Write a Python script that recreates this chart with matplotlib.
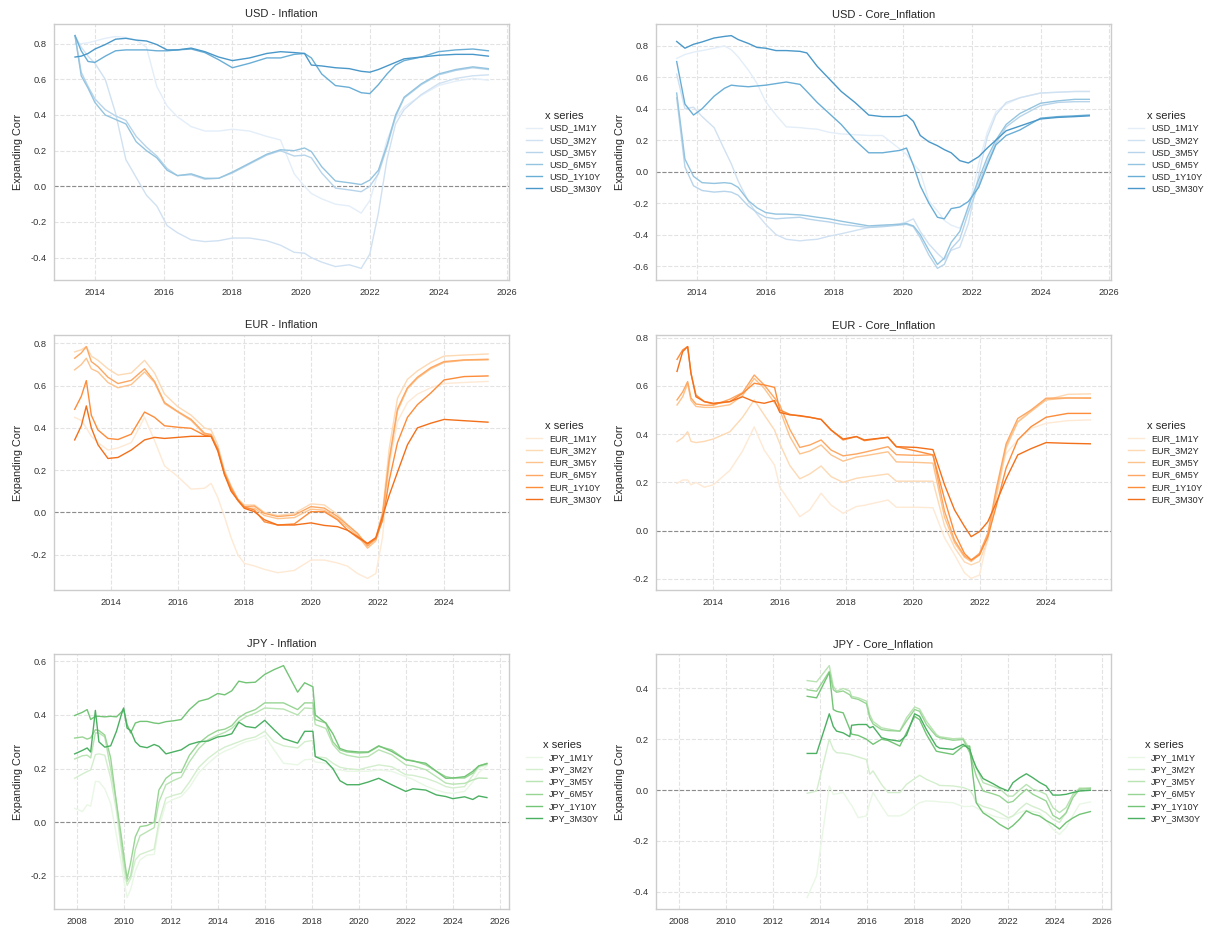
import numpy as np
import matplotlib
matplotlib.use("Agg")
import matplotlib.pyplot as plt
from matplotlib.ticker import MultipleLocator, FormatStrFormatter

plt.rcParams["font.family"] = ["Liberation Sans", "DejaVu Sans"]
plt.rcParams["axes.unicode_minus"] = False

tenors = ["1M1Y", "3M2Y", "3M5Y", "6M5Y", "1Y10Y", "3M30Y"]

# ---------------- USD : Inflation ----------------
usd_inf_t = [2013.42, 2013.6, 2013.8, 2014.0, 2014.3, 2014.6, 2014.9, 2015.2, 2015.5, 2015.8,
             2016.1, 2016.4, 2016.8, 2017.2, 2017.6, 2018.0, 2018.5, 2019.0, 2019.4, 2019.8,
             2020.1, 2020.3, 2020.6, 2021.0, 2021.4, 2021.75, 2022.0, 2022.25, 2022.5, 2022.75,
             2023.0, 2023.5, 2024.0, 2024.5, 2025.0, 2025.45]
usd_inf_1M1Y = [0.80, 0.80, 0.805, 0.815, 0.83, 0.84, 0.835, 0.82, 0.78, 0.56,
                0.45, 0.39, 0.335, 0.31, 0.31, 0.32, 0.31, 0.28, 0.26, 0.07,
                0.0, -0.04, -0.07, -0.10, -0.11, -0.15, -0.08, 0.08, 0.26, 0.38,
                0.445, 0.51, 0.565, 0.59, 0.605, 0.595]
usd_inf_3M2Y = [0.845, 0.78, 0.73, 0.69, 0.60, 0.41, 0.15, 0.05, -0.05, -0.11,
                -0.22, -0.26, -0.30, -0.31, -0.305, -0.29, -0.29, -0.305, -0.33, -0.37,
                -0.375, -0.40, -0.425, -0.45, -0.44, -0.46, -0.38, -0.15, 0.15, 0.35,
                0.43, 0.515, 0.575, 0.605, 0.62, 0.625]
usd_inf_3M5Y = [0.845, 0.64, 0.56, 0.49, 0.43, 0.395, 0.37, 0.28, 0.22, 0.17,
                0.10, 0.06, 0.065, 0.04, 0.045, 0.075, 0.125, 0.175, 0.20, 0.17,
                0.175, 0.16, 0.075, -0.01, -0.02, -0.03, 0.0, 0.07, 0.22, 0.39,
                0.495, 0.57, 0.625, 0.65, 0.665, 0.655]
usd_inf_6M5Y = [0.845, 0.62, 0.55, 0.47, 0.40, 0.375, 0.35, 0.25, 0.20, 0.16,
                0.09, 0.06, 0.07, 0.045, 0.045, 0.08, 0.13, 0.18, 0.205, 0.20,
                0.215, 0.195, 0.11, 0.03, 0.02, 0.01, 0.035, 0.09, 0.23, 0.40,
                0.50, 0.575, 0.63, 0.655, 0.67, 0.66]
usd_inf_1Y10Y = [0.845, 0.76, 0.70, 0.695, 0.73, 0.76, 0.765, 0.765, 0.765, 0.76,
                 0.76, 0.765, 0.77, 0.75, 0.71, 0.665, 0.69, 0.72, 0.72, 0.74,
                 0.745, 0.72, 0.63, 0.565, 0.555, 0.525, 0.52, 0.57, 0.63, 0.68,
                 0.705, 0.725, 0.755, 0.765, 0.77, 0.76]
usd_inf_3M30Y = [0.725, 0.73, 0.745, 0.77, 0.795, 0.825, 0.83, 0.82, 0.815, 0.795,
                 0.765, 0.765, 0.775, 0.755, 0.725, 0.705, 0.72, 0.745, 0.755, 0.75,
                 0.745, 0.68, 0.675, 0.665, 0.66, 0.645, 0.64, 0.655, 0.675, 0.695,
                 0.715, 0.725, 0.735, 0.74, 0.74, 0.73]

# ---------------- USD : Core inflation ----------------
usd_core_t = [2013.41, 2013.65, 2013.9, 2014.15, 2014.5, 2014.8, 2015.0, 2015.2, 2015.5, 2015.75,
              2016.0, 2016.3, 2016.6, 2017.0, 2017.2, 2017.5, 2017.85, 2018.2, 2018.6, 2019.0,
              2019.4, 2019.9, 2020.1, 2020.3, 2020.5, 2020.75, 2021.0, 2021.2, 2021.4, 2021.65,
              2021.9, 2022.2, 2022.45, 2022.7, 2023.0, 2023.4, 2024.0, 2024.5, 2025.0, 2025.42]
usd_core_1M1Y = [0.72, 0.745, 0.76, 0.77, 0.785, 0.80, 0.775, 0.73, 0.645, 0.56,
                 0.445, 0.36, 0.285, 0.28, 0.275, 0.27, 0.25, 0.24, 0.235, 0.23,
                 0.23, 0.145, 0.11, 0.05, 0.0, -0.185, -0.25, -0.31, -0.34, -0.36,
                 -0.24, 0.05, 0.25, 0.38, 0.43, 0.47, 0.50, 0.505, 0.51, 0.51]
usd_core_3M2Y = [0.62, 0.40, 0.41, 0.35, 0.28, 0.14, 0.05, -0.06, -0.19, -0.27,
                 -0.335, -0.40, -0.43, -0.44, -0.435, -0.43, -0.41, -0.395, -0.375, -0.355,
                 -0.345, -0.332, -0.32, -0.30, -0.38, -0.46, -0.52, -0.56, -0.50, -0.48,
                 -0.33, -0.02, 0.22, 0.36, 0.44, 0.47, 0.50, 0.505, 0.51, 0.51]
usd_core_3M5Y = [0.47, 0.03, -0.09, -0.12, -0.13, -0.125, -0.13, -0.15, -0.22, -0.26,
                 -0.29, -0.30, -0.295, -0.29, -0.30, -0.31, -0.32, -0.335, -0.345, -0.355,
                 -0.35, -0.34, -0.335, -0.35, -0.42, -0.53, -0.615, -0.59, -0.49, -0.43,
                 -0.26, -0.08, 0.06, 0.18, 0.285, 0.35, 0.42, 0.44, 0.445, 0.445]
usd_core_6M5Y = [0.50, 0.08, -0.03, -0.07, -0.075, -0.07, -0.075, -0.10, -0.185, -0.23,
                 -0.26, -0.27, -0.27, -0.275, -0.28, -0.29, -0.30, -0.315, -0.33, -0.345,
                 -0.34, -0.335, -0.33, -0.345, -0.40, -0.50, -0.59, -0.55, -0.45, -0.38,
                 -0.22, -0.05, 0.09, 0.20, 0.30, 0.37, 0.435, 0.45, 0.46, 0.46]
usd_core_1Y10Y = [0.70, 0.43, 0.36, 0.40, 0.48, 0.53, 0.55, 0.545, 0.54, 0.545,
                  0.55, 0.56, 0.57, 0.555, 0.51, 0.44, 0.37, 0.30, 0.20, 0.12,
                  0.12, 0.135, 0.15, 0.04, -0.09, -0.20, -0.29, -0.30, -0.235, -0.225,
                  -0.19, -0.10, 0.04, 0.17, 0.23, 0.265, 0.34, 0.35, 0.355, 0.36]
usd_core_3M30Y = [0.828, 0.785, 0.81, 0.825, 0.85, 0.86, 0.865, 0.84, 0.815, 0.79,
                  0.785, 0.77, 0.77, 0.765, 0.755, 0.67, 0.59, 0.51, 0.44, 0.36,
                  0.35, 0.35, 0.36, 0.32, 0.23, 0.19, 0.165, 0.14, 0.12, 0.07,
                  0.055, 0.095, 0.15, 0.20, 0.26, 0.29, 0.335, 0.345, 0.35, 0.355]

# ---------------- EUR : Inflation ----------------
eur_inf_t = [2012.9, 2013.1, 2013.25, 2013.4, 2013.6, 2013.9, 2014.2, 2014.6, 2015.0, 2015.3,
             2015.6, 2016.0, 2016.4, 2016.8, 2017.0, 2017.2, 2017.4, 2017.6, 2017.8, 2018.0,
             2018.3, 2018.6, 2019.0, 2019.5, 2020.0, 2020.4, 2020.8, 2021.1, 2021.4, 2021.7,
             2021.95, 2022.15, 2022.35, 2022.6, 2022.9, 2023.2, 2023.6, 2024.0, 2024.6, 2025.32]
eur_inf_1M1Y = [0.45, 0.435, 0.40, 0.36, 0.33, 0.295, 0.305, 0.33, 0.45, 0.34,
                0.22, 0.169, 0.11, 0.114, 0.137, 0.07, -0.02, -0.12, -0.20, -0.242,
                -0.254, -0.27, -0.286, -0.275, -0.226, -0.226, -0.24, -0.255, -0.29, -0.313,
                -0.29, -0.12, 0.22, 0.43, 0.52, 0.56, 0.59, 0.61, 0.615, 0.62]
eur_inf_3M2Y = [0.76, 0.77, 0.785, 0.74, 0.72, 0.68, 0.65, 0.66, 0.72, 0.66,
                0.56, 0.50, 0.46, 0.40, 0.39, 0.32, 0.20, 0.125, 0.065, 0.035,
                0.035, 0.0, -0.015, -0.005, 0.04, 0.035, -0.01, -0.06, -0.10, -0.155,
                -0.12, 0.0, 0.30, 0.54, 0.63, 0.67, 0.71, 0.74, 0.745, 0.75]
eur_inf_3M5Y = [0.675, 0.70, 0.73, 0.68, 0.665, 0.615, 0.59, 0.605, 0.665, 0.615,
                0.515, 0.475, 0.435, 0.37, 0.37, 0.30, 0.19, 0.115, 0.055, 0.02,
                0.02, -0.015, -0.03, -0.025, 0.015, 0.01, -0.03, -0.07, -0.11, -0.17,
                -0.135, -0.02, 0.24, 0.48, 0.585, 0.635, 0.68, 0.71, 0.72, 0.722]
eur_inf_6M5Y = [0.73, 0.755, 0.785, 0.714, 0.69, 0.64, 0.61, 0.625, 0.68, 0.62,
                0.52, 0.477, 0.44, 0.375, 0.367, 0.30, 0.19, 0.12, 0.06, 0.027,
                0.03, -0.005, -0.02, -0.013, 0.027, 0.02, -0.02, -0.06, -0.10, -0.16,
                -0.125, -0.01, 0.25, 0.49, 0.59, 0.64, 0.685, 0.714, 0.722, 0.725]
eur_inf_1Y10Y = [0.488, 0.55, 0.624, 0.46, 0.39, 0.35, 0.345, 0.37, 0.475, 0.45,
                 0.41, 0.403, 0.398, 0.365, 0.36, 0.30, 0.18, 0.11, 0.06, 0.025,
                 0.011, -0.045, -0.06, -0.055, 0.003, 0.003, -0.036, -0.084, -0.12, -0.15,
                 -0.125, -0.04, 0.15, 0.33, 0.45, 0.51, 0.565, 0.627, 0.643, 0.646]
eur_inf_3M30Y = [0.343, 0.41, 0.504, 0.40, 0.32, 0.255, 0.26, 0.295, 0.343, 0.355,
                 0.35, 0.355, 0.36, 0.36, 0.36, 0.29, 0.18, 0.10, 0.058, 0.019,
                 0.003, -0.035, -0.06, -0.06, -0.05, -0.062, -0.068, -0.085, -0.115, -0.147,
                 -0.12, -0.02, 0.08, 0.19, 0.32, 0.40, 0.422, 0.44, 0.434, 0.427]

# ---------------- EUR : Core inflation ----------------
eur_core_t = [2012.91, 2013.08, 2013.23, 2013.33, 2013.48, 2013.73, 2014.0, 2014.5, 2014.88, 2015.23,
              2015.53, 2015.84, 2016.0, 2016.3, 2016.6, 2016.9, 2017.24, 2017.54, 2017.9, 2018.3,
              2018.54, 2019.25, 2019.5, 2020.1, 2020.6, 2020.95, 2021.25, 2021.55, 2021.75, 2022.0,
              2022.25, 2022.5, 2022.8, 2023.15, 2023.55, 2024.0, 2024.65, 2025.33]
eur_core_1M1Y = [0.196, 0.21, 0.21, 0.19, 0.20, 0.18, 0.19, 0.25, 0.33, 0.43,
                 0.334, 0.272, 0.18, 0.12, 0.058, 0.086, 0.155, 0.106, 0.072, 0.10,
                 0.105, 0.127, 0.097, 0.097, 0.095, -0.03, -0.10, -0.175, -0.198, -0.184,
                 -0.03, 0.17, 0.32, 0.376, 0.424, 0.445, 0.456, 0.459]
eur_core_3M2Y = [0.369, 0.385, 0.41, 0.37, 0.365, 0.37, 0.38, 0.41, 0.47, 0.542,
                 0.48, 0.417, 0.36, 0.27, 0.215, 0.235, 0.268, 0.224, 0.20, 0.217,
                 0.222, 0.235, 0.205, 0.205, 0.205, 0.02, -0.07, -0.13, -0.142, -0.128,
                 -0.039, 0.13, 0.34, 0.452, 0.50, 0.542, 0.565, 0.567]
eur_core_3M5Y = [0.521, 0.555, 0.61, 0.54, 0.515, 0.511, 0.511, 0.522, 0.56, 0.631,
                 0.59, 0.53, 0.50, 0.39, 0.318, 0.33, 0.355, 0.314, 0.288, 0.305,
                 0.31, 0.327, 0.285, 0.283, 0.28, 0.055, -0.05, -0.11, -0.128, -0.10,
                 -0.025, 0.15, 0.35, 0.45, 0.494, 0.542, 0.55, 0.551]
eur_core_6M5Y = [0.542, 0.575, 0.618, 0.55, 0.525, 0.52, 0.52, 0.545, 0.572, 0.645,
                 0.604, 0.55, 0.52, 0.42, 0.345, 0.355, 0.376, 0.334, 0.31, 0.318,
                 0.325, 0.348, 0.315, 0.312, 0.314, 0.08, -0.04, -0.105, -0.122, -0.094,
                 -0.011, 0.17, 0.36, 0.465, 0.50, 0.549, 0.55, 0.549]
eur_core_1Y10Y = [0.71, 0.749, 0.763, 0.652, 0.562, 0.535, 0.525, 0.535, 0.569, 0.611,
                  0.604, 0.594, 0.50, 0.482, 0.475, 0.47, 0.461, 0.417, 0.376, 0.39,
                  0.373, 0.387, 0.348, 0.33, 0.314, 0.13, -0.01, -0.095, -0.122, -0.10,
                  -0.025, 0.10, 0.26, 0.376, 0.431, 0.47, 0.486, 0.486]
eur_core_3M30Y = [0.66, 0.742, 0.763, 0.652, 0.555, 0.535, 0.528, 0.535, 0.555, 0.535,
                  0.528, 0.539, 0.49, 0.48, 0.477, 0.47, 0.461, 0.417, 0.38, 0.39,
                  0.376, 0.387, 0.348, 0.345, 0.336, 0.19, 0.086, 0.017, -0.025, -0.004,
                  0.037, 0.115, 0.215, 0.314, 0.34, 0.365, 0.362, 0.36]

# ---------------- JPY : Inflation ----------------
jpy_inf_t = [2007.92, 2008.25, 2008.45, 2008.6, 2008.8, 2008.95, 2009.2, 2009.45, 2009.7, 2009.9,
             2010.0, 2010.15, 2010.3, 2010.5, 2010.7, 2011.0, 2011.3, 2011.5, 2011.8, 2012.1,
             2012.45, 2012.8, 2013.2, 2013.6, 2014.0, 2014.3, 2014.6, 2014.9, 2015.2, 2015.6,
             2016.0, 2016.4, 2016.8, 2017.4, 2017.7, 2018.05, 2018.15, 2018.6, 2018.9, 2019.2,
             2019.5, 2020.0, 2020.4, 2020.85, 2021.4, 2022.0, 2022.3, 2022.85, 2023.3, 2023.7,
             2024.0, 2024.5, 2024.85, 2025.1, 2025.45]
jpy_inf_1M1Y = [0.052, 0.04, 0.065, 0.06, 0.152, 0.152, 0.125, 0.07, -0.05, -0.15,
                -0.21, -0.28, -0.25, -0.18, -0.14, -0.122, -0.12, -0.02, 0.07, 0.085,
                0.096, 0.13, 0.185, 0.22, 0.25, 0.265, 0.275, 0.289, 0.30, 0.308,
                0.323, 0.27, 0.22, 0.214, 0.233, 0.235, 0.225, 0.22, 0.20, 0.195,
                0.19, 0.19, 0.19, 0.195, 0.19, 0.17, 0.16, 0.135, 0.12, 0.11,
                0.108, 0.115, 0.15, 0.185, 0.21]
jpy_inf_3M2Y = [0.164, 0.18, 0.189, 0.195, 0.252, 0.255, 0.25, 0.165, 0.04, -0.10,
                -0.17, -0.235, -0.21, -0.14, -0.12, -0.11, -0.10, 0.0, 0.09, 0.10,
                0.108, 0.15, 0.205, 0.239, 0.265, 0.28, 0.29, 0.30, 0.31, 0.318,
                0.339, 0.30, 0.285, 0.277, 0.30, 0.305, 0.245, 0.24, 0.22, 0.205,
                0.20, 0.196, 0.205, 0.214, 0.207, 0.177, 0.175, 0.164, 0.15, 0.133,
                0.128, 0.133, 0.175, 0.205, 0.214]
jpy_inf_3M5Y = [0.236, 0.248, 0.25, 0.24, 0.333, 0.333, 0.318, 0.20, 0.07, -0.075,
                -0.14, -0.22, -0.20, -0.10, -0.05, -0.035, -0.02, 0.075, 0.14, 0.155,
                0.168, 0.225, 0.275, 0.308, 0.325, 0.335, 0.35, 0.376, 0.393, 0.407,
                0.426, 0.424, 0.422, 0.40, 0.426, 0.424, 0.364, 0.35, 0.29, 0.26,
                0.25, 0.242, 0.245, 0.27, 0.252, 0.214, 0.21, 0.196, 0.17, 0.146,
                0.142, 0.145, 0.158, 0.165, 0.164]
jpy_inf_6M5Y = [0.314, 0.318, 0.31, 0.315, 0.345, 0.342, 0.325, 0.24, 0.07, -0.05,
                -0.116, -0.21, -0.15, -0.054, -0.016, -0.012, 0.0, 0.12, 0.164, 0.184,
                0.186, 0.25, 0.295, 0.323, 0.342, 0.347, 0.36, 0.39, 0.407, 0.42,
                0.445, 0.445, 0.445, 0.42, 0.445, 0.445, 0.383, 0.37, 0.30, 0.27,
                0.262, 0.258, 0.26, 0.283, 0.27, 0.233, 0.23, 0.214, 0.19, 0.17,
                0.165, 0.165, 0.183, 0.21, 0.22]
jpy_inf_1Y10Y = [0.398, 0.41, 0.42, 0.383, 0.395, 0.395, 0.393, 0.395, 0.393, 0.41,
                 0.422, 0.364, 0.333, 0.37, 0.376, 0.376, 0.37, 0.368, 0.375, 0.378,
                 0.383, 0.42, 0.451, 0.46, 0.48, 0.475, 0.49, 0.526, 0.52, 0.522,
                 0.551, 0.569, 0.584, 0.485, 0.52, 0.505, 0.40, 0.37, 0.33, 0.275,
                 0.266, 0.262, 0.262, 0.285, 0.264, 0.233, 0.228, 0.22, 0.19, 0.164,
                 0.165, 0.17, 0.19, 0.21, 0.218]
jpy_inf_3M30Y = [0.255, 0.268, 0.277, 0.262, 0.417, 0.30, 0.28, 0.285, 0.34, 0.40,
                 0.426, 0.351, 0.342, 0.30, 0.283, 0.278, 0.29, 0.283, 0.255, 0.262,
                 0.27, 0.29, 0.30, 0.303, 0.318, 0.322, 0.33, 0.373, 0.357, 0.352,
                 0.38, 0.345, 0.312, 0.295, 0.339, 0.339, 0.245, 0.228, 0.20, 0.155,
                 0.14, 0.14, 0.15, 0.164, 0.14, 0.115, 0.125, 0.12, 0.102, 0.096,
                 0.088, 0.095, 0.085, 0.098, 0.092]

# ---------------- JPY : Core inflation ----------------
jpy_core_t = [2013.47, 2013.87, 2014.41, 2014.58, 2014.72, 2015.0, 2015.28, 2015.36, 2015.64, 2015.99,
              2016.13, 2016.27, 2016.63, 2016.91, 2017.41, 2017.69, 2018.04, 2018.25, 2018.54, 2018.96,
              2019.1, 2019.67, 2020.1, 2020.38, 2020.52, 2020.66, 2020.95, 2021.37, 2021.65, 2022.01,
              2022.22, 2022.5, 2022.79, 2023.07, 2023.35, 2023.63, 2023.92, 2024.2, 2024.48, 2024.77,
              2025.05, 2025.51]
jpy_core_1M1Y = [-0.423, -0.338, 0.016, -0.017, -0.015, -0.01, -0.05, -0.06, -0.109, -0.102,
                 -0.05, -0.01, -0.063, -0.102, -0.102, -0.09, -0.063, -0.05, -0.043, -0.045,
                 -0.047, -0.05, -0.065, -0.065, -0.063, -0.07, -0.085, -0.102, -0.109, -0.115,
                 -0.102, -0.089, -0.08, -0.085, -0.09, -0.12, -0.154, -0.175, -0.148, -0.10,
                 -0.056, -0.047]
jpy_core_3M2Y = [-0.013, -0.004, 0.20, 0.16, 0.147, 0.145, 0.14, 0.138, 0.13, 0.12,
                 0.062, 0.075, 0.022, -0.01, -0.01, 0.022, 0.045, 0.058, 0.042, 0.025,
                 0.018, 0.016, 0.01, 0.0, -0.02, -0.05, -0.065, -0.076, -0.089, -0.109,
                 -0.102, -0.075, -0.052, -0.065, -0.075, -0.09, -0.115, -0.128, -0.089, -0.02,
                 0.009, 0.005]
jpy_core_3M5Y = [0.431, 0.426, 0.49, 0.409, 0.389, 0.40, 0.39, 0.369, 0.363, 0.35,
                 0.297, 0.27, 0.245, 0.24, 0.232, 0.284, 0.327, 0.319, 0.271, 0.219,
                 0.21, 0.202, 0.204, 0.16, 0.12, 0.088, 0.029, 0.015, 0.005, -0.024,
                 -0.024, 0.0, 0.022, 0.003, -0.005, -0.017, -0.07, -0.089, -0.069, -0.017,
                 0.005, 0.009]
jpy_core_6M5Y = [0.395, 0.389, 0.467, 0.395, 0.385, 0.39, 0.375, 0.363, 0.357, 0.34,
                 0.284, 0.26, 0.238, 0.234, 0.232, 0.271, 0.317, 0.31, 0.258, 0.212,
                 0.206, 0.196, 0.199, 0.147, 0.10, 0.055, -0.004, -0.015, -0.024, -0.05,
                 -0.045, -0.02, 0.003, -0.017, -0.03, -0.043, -0.10, -0.115, -0.09, -0.03,
                 0.003, 0.005]
jpy_core_1Y10Y = [0.369, 0.363, 0.463, 0.317, 0.31, 0.304, 0.24, 0.22, 0.215, 0.20,
                  0.19, 0.18, 0.20, 0.195, 0.173, 0.225, 0.29, 0.277, 0.219, 0.153,
                  0.15, 0.14, 0.173, 0.173, 0.055, -0.05, -0.09, -0.115, -0.135, -0.154,
                  -0.14, -0.115, -0.082, -0.095, -0.102, -0.12, -0.135, -0.154, -0.128, -0.11,
                  -0.096, -0.085]
jpy_core_3M30Y = [0.144, 0.144, 0.30, 0.25, 0.232, 0.225, 0.21, 0.255, 0.258, 0.258,
                  0.245, 0.25, 0.206, 0.199, 0.192, 0.215, 0.30, 0.29, 0.238, 0.173,
                  0.165, 0.16, 0.18, 0.16, 0.12, 0.088, 0.045, 0.025, 0.01, -0.004,
                  0.029, 0.048, 0.064, 0.048, 0.03, 0.016, -0.02, -0.02, -0.017, -0.01,
                  -0.004, -0.001]

panels = [
    ("USD", "Inflation", "Blues", usd_inf_t,
     [usd_inf_1M1Y, usd_inf_3M2Y, usd_inf_3M5Y, usd_inf_6M5Y, usd_inf_1Y10Y, usd_inf_3M30Y]),
    ("USD", "Core_Inflation", "Blues", usd_core_t,
     [usd_core_1M1Y, usd_core_3M2Y, usd_core_3M5Y, usd_core_6M5Y, usd_core_1Y10Y, usd_core_3M30Y]),
    ("EUR", "Inflation", "Oranges", eur_inf_t,
     [eur_inf_1M1Y, eur_inf_3M2Y, eur_inf_3M5Y, eur_inf_6M5Y, eur_inf_1Y10Y, eur_inf_3M30Y]),
    ("EUR", "Core_Inflation", "Oranges", eur_core_t,
     [eur_core_1M1Y, eur_core_3M2Y, eur_core_3M5Y, eur_core_6M5Y, eur_core_1Y10Y, eur_core_3M30Y]),
    ("JPY", "Inflation", "Greens", jpy_inf_t,
     [jpy_inf_1M1Y, jpy_inf_3M2Y, jpy_inf_3M5Y, jpy_inf_6M5Y, jpy_inf_1Y10Y, jpy_inf_3M30Y]),
    ("JPY", "Core_Inflation", "Greens", jpy_core_t,
     [jpy_core_1M1Y, jpy_core_3M2Y, jpy_core_3M5Y, jpy_core_6M5Y, jpy_core_1Y10Y, jpy_core_3M30Y]),
]

W, H = 1205, 931
fig = plt.figure(figsize=(W / 100, H / 100), dpi=100)

col_x = [54, 656]
ax_w = 455
row_y = [(24, 280), (335, 590), (654, 909)]

axes = []
for i in range(6):
    r, c = divmod(i, 2)
    top, bot = row_y[r]
    rect = [col_x[c] / W, 1 - bot / H, ax_w / W, (bot - top) / H]
    if c == 1:
        ax = fig.add_axes(rect, sharex=axes[-1])
    else:
        ax = fig.add_axes(rect)
    axes.append(ax)

for ax, (ccy, kind, cmap_name, t, series) in zip(axes, panels):
    cmap = plt.get_cmap(cmap_name)
    colors = cmap(np.linspace(0.1, 0.6, len(tenors)))
    ax.set_facecolor("white")
    for tenor, vals, col in zip(tenors, series, colors):
        ax.plot(t, vals, color=col, lw=1.0, label=f"{ccy}_{tenor}")
    ax.axhline(0, color="#8c8c8c", ls="--", lw=0.8, zorder=1)
    ax.grid(True, ls="--", color="#e3e3e3", lw=0.8)
    ax.set_axisbelow(True)
    for sp in ax.spines.values():
        sp.set_color("#cccccc")
        sp.set_linewidth(1.0)
    ax.tick_params(axis="both", length=0, labelsize=6.7, colors="#333333", pad=5.5)
    ax.xaxis.set_major_locator(MultipleLocator(2))
    ax.xaxis.set_major_formatter(FormatStrFormatter("%d"))
    ax.set_title(f"{ccy} - {kind}", fontsize=8, color="#262626", pad=5)
    ax.set_ylabel("Expanding Corr", fontsize=7.8, color="#262626", labelpad=5)
    leg = ax.legend(title="x series", loc="center left", bbox_to_anchor=(1.02, 0.5),
                    frameon=False, fontsize=6.5, title_fontsize=8, labelspacing=0.35,
                    handlelength=1.8, handletextpad=0.7)
    for txt in leg.get_texts():
        txt.set_color("#262626")
    leg.get_title().set_color("#262626")

fig.savefig("out.png", dpi=100, facecolor="white")
